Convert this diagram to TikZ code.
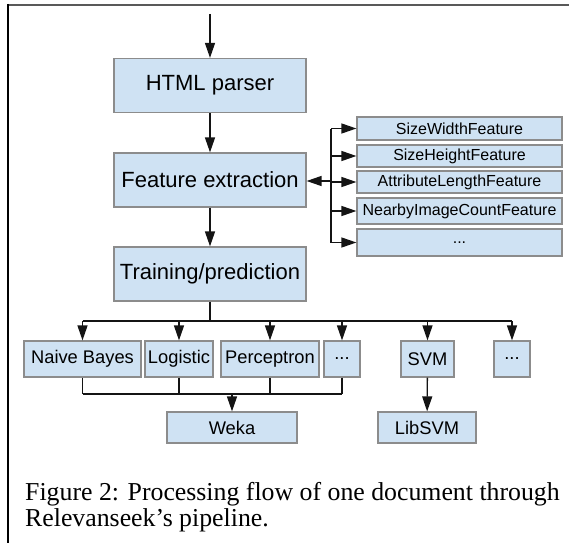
\documentclass[tikz,border=0pt]{standalone}
\usepackage{fontspec}
\setmainfont{Liberation Serif}
\newfontfamily\boxfont{Liberation Sans}
\usetikzlibrary{arrows.meta}
\definecolor{boxfill}{HTML}{CFE2F3}
\definecolor{boxline}{HTML}{8C8C8C}
\definecolor{wire}{HTML}{141414}
\tikzset{
  base/.style={draw=boxline, line width=1.2pt, fill=boxfill, inner sep=0pt,
    text=black, font=\boxfont},
  bigbox/.style={base, minimum width=192pt, minimum height=54pt,
    font=\boxfont\fontsize{22}{24}\selectfont},
  featbox/.style={base, minimum width=205pt,
    font=\boxfont\fontsize{16}{18}\selectfont},
  algbox/.style={base, minimum height=36pt,
    font=\boxfont\fontsize{18.3}{20}\selectfont},
  libbox/.style={base, minimum height=31pt,
    font=\boxfont\fontsize{18.3}{20}\selectfont},
  wireline/.style={draw=wire, line width=1.3pt},
  flow/.style={wireline, -{Triangle[length=15pt,width=10pt]}},
  caption/.style={anchor=base west, inner sep=0pt,
    font=\fontsize{25.8}{28}\selectfont},
}
\begin{document}
\begin{tikzpicture}[x=1pt,y=-1pt]
\useasboundingbox (0,0) rectangle (569,543);
% frame edges
\draw[draw=black!65, line width=2pt] (8,5) -- (569,5);
\draw[draw=black, line width=1.5pt] (8,4) -- (8,543);

% main pipeline
\coordinate (in) at (210,14);
\node[bigbox] (html)  at (210,85.5) {HTML parser};
\node[bigbox] (feat)  at (210,180)  {Feature extraction};
\node[bigbox] (train) at (210,274)  {Training/prediction};

\draw[flow] (in) -- (html.north);
\draw[flow] (html) -- (feat);
\draw[flow] (feat) -- (train);

% feature extractors
\node[featbox, minimum height=23pt] (f1) at (459.5,128.5) {SizeWidthFeature};
\node[featbox, minimum height=22pt] (f2) at (459.5,156)   {SizeHeightFeature};
\node[featbox, minimum height=22pt] (f3) at (459.5,182)   {AttributeLengthFeature};
\node[featbox, minimum height=26pt] (f4) at (459.5,211)   {NearbyImageCountFeature};
\node[featbox, minimum height=27pt] (f5) at (459.5,242.5) {...};

\coordinate (bt) at (331,128.5);
\coordinate (bb) at (331,242.5);
\coordinate (bm) at (331,181);
\draw[wireline] (bt) -- (bb);
\foreach \f in {f1,f2,f3,f4,f5}
  \draw[flow] (bt |- \f.west) -- (\f.west);
\draw[flow] (bm) -- (feat.east |- bm);

% learning algorithms
\node[algbox, minimum width=117pt] (nb)  at (82.5,359)  {Naive Bayes};
\node[algbox, minimum width=68pt]  (lg)  at (179,359)   {Logistic};
\node[algbox, minimum width=98pt]  (pc)  at (270,359)   {Perceptron};
\node[algbox, minimum width=36pt]  (d1)  at (342,359)   {...};
\node[algbox, minimum width=53pt]  (svm) at (427.5,359) {SVM};
\node[algbox, minimum width=36pt]  (d2)  at (512,359)   {...};

\coordinate (split) at (210,321);
\draw[wireline] (train.south) -- (split);
\draw[wireline] (nb.north |- split) -- (d2.north |- split);
\foreach \a in {nb,lg,pc,d1,svm,d2}
  \draw[flow] (\a.north |- split) -- (\a.north);

% libraries
\node[libbox, minimum width=130pt] (weka)   at (232,427.5) {Weka};
\node[libbox, minimum width=98pt]  (libsvm) at (427,427.5) {LibSVM};

\coordinate (join) at (232,394);
\foreach \a in {nb,lg,pc,d1}
  \draw[wireline] (\a.south) -- (\a.south |- join);
\draw[wireline] (nb.south |- join) -- (d1.south |- join);
\draw[flow] (join) -- (weka.north);
\draw[flow] (svm) -- (libsvm);

% caption
\node[caption] (cap1) at (25,500) {Figure 2: Processing flow of one document through};
\node[caption] (cap2) at (25,526) {Relevanseek’s pipeline.};
\end{tikzpicture}
\end{document}
